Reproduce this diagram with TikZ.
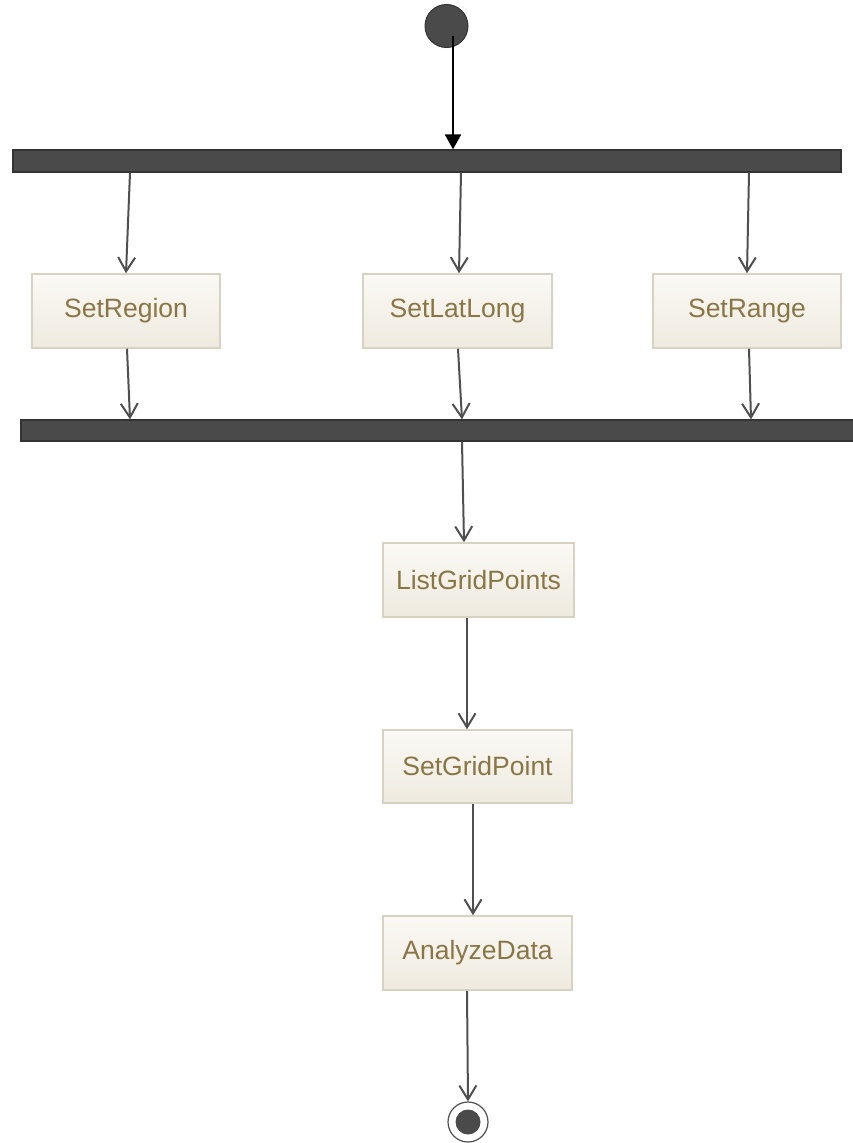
\documentclass[tikz,border=0pt]{standalone}
\usepackage{fontspec}
\setmainfont{Liberation Sans}
\usetikzlibrary{arrows.meta}

\definecolor{barfill}{HTML}{4A4A4A}
\definecolor{barline}{HTML}{333333}
\definecolor{flowgray}{HTML}{4F4F4F}
\definecolor{boxedge}{HTML}{D8D2C3}
\definecolor{boxtop}{HTML}{FBF9F5}
\definecolor{boxbot}{HTML}{EEEADF}
\definecolor{boxtext}{HTML}{8A7545}

\tikzset{
  actbox/.style={rectangle, draw=boxedge, line width=1.5pt,
    top color=boxtop, bottom color=boxbot, text=boxtext,
    font=\fontsize{26.5}{31}\selectfont, inner sep=0pt},
  syncbar/.style={rectangle, fill=barfill, draw=barline, line width=1.2pt, inner sep=0pt},
  flow/.style={draw=flowgray, line width=2pt,
    -{Straight Barb[length=14pt,width=17pt,line width=2pt]}},
  startflow/.style={draw=black, line width=2pt,
    -{Triangle[length=15pt,width=16pt]}}
}

\begin{document}
\begin{tikzpicture}[x=1pt,y=-1pt]
  \useasboundingbox (0,0) rectangle (852,1143);

  % initial node
  \node[circle, fill=barfill, draw=barline, line width=1pt, minimum size=43pt, inner sep=0pt] (start) at (446.5,26) {};

  % fork and join bars
  \node[syncbar, minimum width=828pt, minimum height=22pt] (bar1) at (427,161) {};
  \node[syncbar, minimum width=835pt, minimum height=21pt] (bar2) at (438.5,430.5) {};

  % actions
  \node[actbox, minimum width=188pt, minimum height=74pt] (region)  at (126,311)   {SetRegion};
  \node[actbox, minimum width=189pt, minimum height=74pt] (latlong) at (457.5,311) {SetLatLong};
  \node[actbox, minimum width=188pt, minimum height=74pt] (range)   at (747,311)   {SetRange};
  \node[actbox, minimum width=191pt, minimum height=74pt] (lgp)     at (478.5,580) {ListGridPoints};
  \node[actbox, minimum width=189pt, minimum height=73pt] (sgp)     at (477.5,766.5) {SetGridPoint};
  \node[actbox, minimum width=189pt, minimum height=74pt] (ad)      at (477.5,953) {AnalyzeData};

  % final node
  \node[circle, fill=white, draw=flowgray, line width=1.2pt, minimum size=40pt, inner sep=0pt] (end) at (468,1122) {};
  \node[circle, fill=barfill, minimum size=25pt, inner sep=0pt] (endcore) at (end.center) {};

  % control flow
  \draw[startflow] ([xshift=6.5pt,yshift=-10pt]start.center) -- ([xshift=26pt]bar1.north);

  \draw[flow] ([xshift=-297pt]bar1.south) -- (region.north);
  \draw[flow] ([xshift=34pt]bar1.south)   -- ([xshift=1.5pt]latlong.north);
  \draw[flow] ([xshift=322pt]bar1.south)  -- (range.north);

  \draw[flow] ([xshift=1pt]region.south)    -- ([xshift=-308.5pt]bar2.north);
  \draw[flow] ([xshift=0.5pt]latlong.south) -- ([xshift=23.5pt]bar2.north);
  \draw[flow] ([xshift=2pt]range.south)     -- ([xshift=312.5pt]bar2.north);

  \draw[flow] ([xshift=23.5pt]bar2.south) -- ([xshift=-14.5pt]lgp.north);
  \draw[flow] ([xshift=-11.5pt]lgp.south) -- ([xshift=-10.5pt]sgp.north);
  \draw[flow] ([xshift=-4.5pt]sgp.south)  -- ([xshift=-4.5pt]ad.north);
  \draw[flow] ([xshift=-10.5pt]ad.south)  -- (end.north);
\end{tikzpicture}
\end{document}
